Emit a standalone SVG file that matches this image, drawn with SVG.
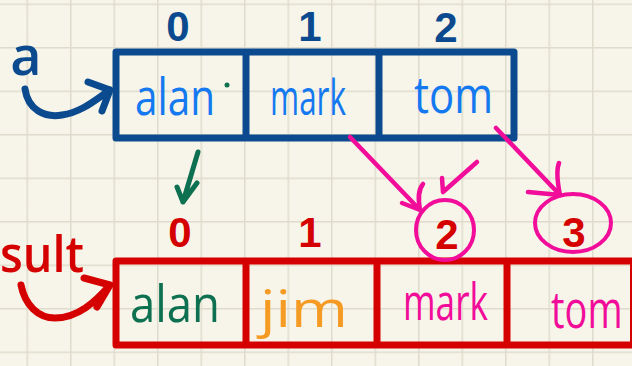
<svg xmlns="http://www.w3.org/2000/svg" width="632" height="366" viewBox="0 0 632 366">
<defs>
<pattern id="grid" x="26.5" y="3.5" width="43.5" height="43.5" patternUnits="userSpaceOnUse">
<path d="M0 0 V43.5 M0 0 H43.5" stroke="#dfdccd" stroke-width="3" fill="none"/>
</pattern>
<style>
.hw{font-family:"Open Sans","Liberation Sans",sans-serif;}
.idx{font-family:"Liberation Sans","Open Sans",sans-serif;font-weight:700;font-size:42px;text-anchor:middle;}
.blue{fill:#0b4a8e;}
.red{fill:#d50000;}
.ln{fill:none;stroke-linecap:round;stroke-linejoin:round;}
</style>
</defs>
<rect width="632" height="366" fill="#f7f5e9"/>
<rect width="632" height="366" fill="url(#grid)"/>

<g id="array-a">
<rect x="116" y="52" width="398" height="86" class="ln" stroke="#0b4a8e" stroke-width="7"/>
<line x1="246" y1="52" x2="246" y2="138" stroke="#0b4a8e" stroke-width="7"/>
<line x1="379" y1="52" x2="379" y2="138" stroke="#0b4a8e" stroke-width="7"/>
<text class="idx blue" x="178" y="41">0</text>
<text class="idx blue" x="310" y="41">1</text>
<text class="idx blue" x="446" y="42">2</text>
<text class="hw" x="135" y="115" font-size="52" fill="#1479f0" textLength="80" lengthAdjust="spacingAndGlyphs">alan</text>
<circle cx="227" cy="85" r="2.5" fill="#0d7050"/>
<text class="hw" x="270" y="115" font-size="50" fill="#1479f0" textLength="76" lengthAdjust="spacingAndGlyphs">mark</text>
<text class="hw" x="414" y="113" font-size="52" fill="#1479f0" textLength="79" lengthAdjust="spacingAndGlyphs">tom</text>
</g>

<g id="label-a">
<text class="hw blue" x="26" y="75" font-size="54" font-weight="600" text-anchor="middle">a</text>
</g>

<g id="array-result">
<path class="ln" d="M632 261 H116 V345 H632" stroke="#d50000" stroke-width="7" stroke-linecap="butt"/>
<line x1="246" y1="261" x2="246" y2="345" stroke="#d50000" stroke-width="7"/>
<line x1="377" y1="261" x2="377" y2="345" stroke="#d50000" stroke-width="7"/>
<line x1="507" y1="261" x2="507" y2="345" stroke="#d50000" stroke-width="7"/>
<line x1="631" y1="261" x2="631" y2="345" stroke="#d50000" stroke-width="2"/>
<text class="idx red" x="180" y="247">0</text>
<text class="idx red" x="310" y="247">1</text>
<text class="idx red" x="447" y="249">2</text>
<text class="idx red" x="574" y="247">3</text>
<text class="hw" x="130" y="322" font-size="52" fill="#0d7050" textLength="90" lengthAdjust="spacingAndGlyphs">alan</text>
<text class="hw" x="260" y="327" font-size="52" fill="#f59a23" textLength="88" lengthAdjust="spacingAndGlyphs">jim</text>
<text class="hw" x="403" y="320" font-size="52" fill="#f20c9a" textLength="85" lengthAdjust="spacingAndGlyphs">mark</text>
<text class="hw" transform="translate(551 328) scale(0.95 1.3)" font-size="40" fill="#f20c9a">tom</text>
</g>

<g id="label-result">
<text class="hw red" x="0" y="272" font-size="50" font-weight="600" textLength="84" lengthAdjust="spacingAndGlyphs">sult</text>
</g>

<g id="circles">
<ellipse cx="445" cy="230" rx="29" ry="30" class="ln" stroke="#f20c9a" stroke-width="4"/>
<ellipse cx="573" cy="223" rx="38" ry="29" class="ln" stroke="#f20c9a" stroke-width="4"/>
</g>

<g id="connectors">
<path class="ln" stroke="#0b4a8e" stroke-width="7" d="M25 89 C28 110 45 118 62 115 C82 112 95 100 110 90 M88 82 L110 90 L102 111"/>
<path class="ln" stroke="#d50000" stroke-width="7" d="M21 285 C25 305 38 318 55 318 C78 318 95 302 110 285 M84 278 L110 285 L97 307"/>
<path class="ln" stroke="#0d7050" stroke-width="5" d="M198 152 L183 202 M177 187 L183 202 L197 183"/>
<path class="ln" stroke="#f20c9a" stroke-width="4.5" d="M350 137 L420 210 M402 203 L420 210 M423 184 C418 190 418 198 420 210"/>
<path class="ln" stroke="#f20c9a" stroke-width="4.5" d="M477 162 L443 192 L442 178"/>
<path class="ln" stroke="#f20c9a" stroke-width="4.5" d="M496 128 L560 195 M528 192 L560 195 M559 163 C556 170 557 180 560 195"/>
</g>
</svg>
